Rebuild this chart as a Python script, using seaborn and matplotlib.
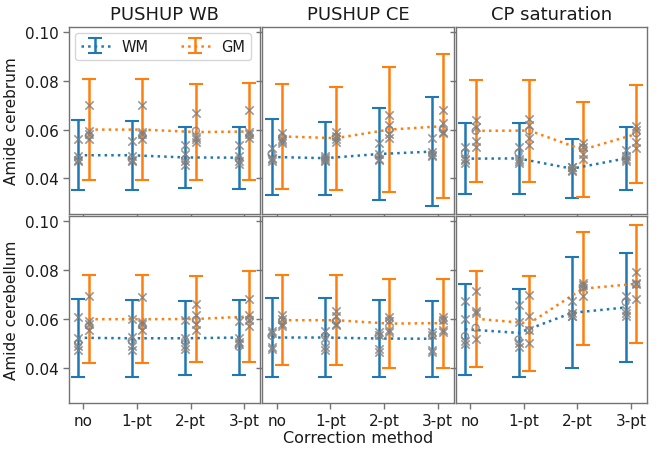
import numpy as np
import pandas as pd
import matplotlib
matplotlib.use('Agg')
import matplotlib.pyplot as plt
import seaborn as sns

methods = ['no', '1-pt', '2-pt', '3-pt']
tools = ['PUSHUP WB', 'PUSHUP CE', 'CP saturation']
regions = ['Amide cerebrum', 'Amide cerebellum']

# mean / sd of amide per correction method (no, 1-pt, 2-pt, 3-pt)
# subject values: first subject is drawn as 'o', the rest as 'x'

# --- PUSHUP WB, cerebrum
wb_cbr_wm_mean = [0.0495, 0.0495, 0.0486, 0.0485]
wb_cbr_wm_sd = [0.0143, 0.0142, 0.0126, 0.0127]
wb_cbr_gm_mean = [0.0600, 0.0600, 0.0590, 0.0592]
wb_cbr_gm_sd = [0.0208, 0.0207, 0.0196, 0.0200]
wb_cbr_wm_pts = [[0.048, 0.056, 0.049, 0.047, 0.0475],
                 [0.048, 0.0555, 0.049, 0.047, 0.0475],
                 [0.048, 0.0535, 0.050, 0.047, 0.0455],
                 [0.048, 0.0535, 0.049, 0.047, 0.046]]
wb_cbr_gm_pts = [[0.0575, 0.070, 0.0595, 0.056, 0.058],
                 [0.0575, 0.070, 0.059, 0.056, 0.058],
                 [0.0595, 0.067, 0.057, 0.055, 0.056],
                 [0.0575, 0.068, 0.059, 0.0565, 0.058]]

# --- PUSHUP CE, cerebrum
ce_cbr_wm_mean = [0.0488, 0.0483, 0.0500, 0.0510]
ce_cbr_wm_sd = [0.0155, 0.0150, 0.0188, 0.0223]
ce_cbr_gm_mean = [0.0572, 0.0565, 0.0600, 0.0614]
ce_cbr_gm_sd = [0.0214, 0.0211, 0.0257, 0.0294]
ce_cbr_wm_pts = [[0.050, 0.0525, 0.048, 0.047, 0.0485],
                 [0.048, 0.049, 0.047, 0.0475, 0.0485],
                 [0.049, 0.0545, 0.050, 0.048, 0.0475],
                 [0.050, 0.0565, 0.051, 0.049, 0.0495]]
ce_cbr_gm_pts = [[0.057, 0.0585, 0.056, 0.0555, 0.0545],
                 [0.057, 0.059, 0.056, 0.055, 0.0575],
                 [0.060, 0.066, 0.062, 0.058, 0.0565],
                 [0.060, 0.068, 0.0625, 0.059, 0.0585]]

# --- CP saturation, cerebrum
cp_cbr_wm_mean = [0.0481, 0.0482, 0.0440, 0.0482]
cp_cbr_wm_sd = [0.0146, 0.0145, 0.0120, 0.0129]
cp_cbr_gm_mean = [0.0595, 0.0596, 0.0518, 0.0582]
cp_cbr_gm_sd = [0.0210, 0.0209, 0.0193, 0.0201]
cp_cbr_wm_pts = [[0.0505, 0.053, 0.048, 0.0475, 0.0465],
                 [0.0505, 0.053, 0.048, 0.047, 0.0465],
                 [0.044, 0.0445, 0.0435, 0.043, 0.0445],
                 [0.048, 0.0515, 0.049, 0.047, 0.048]]
cp_cbr_gm_pts = [[0.0595, 0.064, 0.061, 0.0555, 0.053],
                 [0.0595, 0.0645, 0.062, 0.0565, 0.0535],
                 [0.0525, 0.0545, 0.053, 0.050, 0.048],
                 [0.0585, 0.0615, 0.060, 0.055, 0.0525]]

# --- PUSHUP WB, cerebellum
wb_cbl_wm_mean = [0.0522, 0.0520, 0.0520, 0.0523]
wb_cbl_wm_sd = [0.0160, 0.0158, 0.0151, 0.0154]
wb_cbl_gm_mean = [0.0598, 0.0598, 0.0599, 0.0609]
wb_cbl_gm_sd = [0.0180, 0.0180, 0.0175, 0.0185]
wb_cbl_wm_pts = [[0.050, 0.0605, 0.052, 0.049, 0.047],
                 [0.051, 0.060, 0.0525, 0.049, 0.047],
                 [0.051, 0.0595, 0.052, 0.049, 0.0475],
                 [0.0485, 0.059, 0.052, 0.0505, 0.0495]]
wb_cbl_gm_pts = [[0.057, 0.0695, 0.058, 0.0555, 0.059],
                 [0.057, 0.069, 0.058, 0.0555, 0.0585],
                 [0.0595, 0.066, 0.0615, 0.0555, 0.058],
                 [0.060, 0.068, 0.0615, 0.057, 0.0595]]

# --- PUSHUP CE, cerebellum
ce_cbl_wm_mean = [0.0523, 0.0523, 0.0519, 0.0518]
ce_cbl_wm_sd = [0.0160, 0.0160, 0.0156, 0.0156]
ce_cbl_gm_mean = [0.0594, 0.0594, 0.0580, 0.0582]
ce_cbl_gm_sd = [0.0183, 0.0183, 0.0183, 0.0182]
ce_cbl_wm_pts = [[0.053, 0.055, 0.054, 0.0485, 0.0475],
                 [0.053, 0.055, 0.052, 0.0485, 0.047],
                 [0.053, 0.0545, 0.0535, 0.0475, 0.0465],
                 [0.053, 0.0545, 0.0535, 0.047, 0.0465]]
ce_cbl_gm_pts = [[0.059, 0.0615, 0.060, 0.058, 0.057],
                 [0.059, 0.063, 0.061, 0.0575, 0.058],
                 [0.0595, 0.0605, 0.059, 0.0555, 0.0545],
                 [0.0595, 0.0605, 0.0595, 0.0555, 0.0545]]

# --- CP saturation, cerebellum
cp_cbl_wm_mean = [0.0557, 0.0542, 0.0624, 0.0646]
cp_cbl_wm_sd = [0.0186, 0.0180, 0.0227, 0.0223]
cp_cbl_gm_mean = [0.0600, 0.0581, 0.0723, 0.0743]
cp_cbl_gm_sd = [0.0197, 0.0195, 0.0231, 0.0241]
cp_cbl_wm_pts = [[0.0529, 0.0671, 0.0597, 0.0508, 0.0495],
                 [0.0515, 0.0658, 0.0586, 0.0499, 0.0484],
                 [0.062, 0.0671, 0.0613, 0.061, 0.0625],
                 [0.0668, 0.0692, 0.0637, 0.061, 0.0623]]
cp_cbl_gm_pts = [[0.0563, 0.0715, 0.0631, 0.0624, 0.0515],
                 [0.0553, 0.0698, 0.0613, 0.0553, 0.0499],
                 [0.0732, 0.0746, 0.0739, 0.0692, 0.0725],
                 [0.074, 0.0791, 0.0742, 0.0681, 0.0745]]

panels = [
    [(wb_cbr_wm_mean, wb_cbr_wm_sd, wb_cbr_wm_pts, wb_cbr_gm_mean, wb_cbr_gm_sd, wb_cbr_gm_pts),
     (ce_cbr_wm_mean, ce_cbr_wm_sd, ce_cbr_wm_pts, ce_cbr_gm_mean, ce_cbr_gm_sd, ce_cbr_gm_pts),
     (cp_cbr_wm_mean, cp_cbr_wm_sd, cp_cbr_wm_pts, cp_cbr_gm_mean, cp_cbr_gm_sd, cp_cbr_gm_pts)],
    [(wb_cbl_wm_mean, wb_cbl_wm_sd, wb_cbl_wm_pts, wb_cbl_gm_mean, wb_cbl_gm_sd, wb_cbl_gm_pts),
     (ce_cbl_wm_mean, ce_cbl_wm_sd, ce_cbl_wm_pts, ce_cbl_gm_mean, ce_cbl_gm_sd, ce_cbl_gm_pts),
     (cp_cbl_wm_mean, cp_cbl_wm_sd, cp_cbl_wm_pts, cp_cbl_gm_mean, cp_cbl_gm_sd, cp_cbl_gm_pts)],
]

sns.set_style('ticks', {'axes.edgecolor': '.45', 'xtick.color': '.45', 'ytick.color': '.45',
                        'text.color': '.1', 'axes.labelcolor': '.1'})
plt.rcParams['font.family'] = ['DejaVu Sans']
pal = sns.color_palette('tab10')
c_wm, c_gm = pal[0], pal[1]

fig, axes = plt.subplots(2, 3, figsize=(6.58, 4.56), dpi=100, sharex=True, sharey=True)
fig.subplots_adjust(left=69/658, right=647/658, top=1-28/456, bottom=1-404/456,
                    wspace=0.012, hspace=0.012)

x = np.arange(len(methods))
off = 0.1


def subj_frame(pos, pts):
    rows = []
    for p, vals in zip(pos, pts):
        for k, v in enumerate(vals):
            rows.append({'x': p, 'y': v, 'kind': 'o' if k == 0 else 'x'})
    return pd.DataFrame(rows)


for r in range(2):
    for c in range(3):
        ax = axes[r, c]
        wm_m, wm_s, wm_p, gm_m, gm_s, gm_p = panels[r][c]
        h_wm = ax.errorbar(x - off, wm_m, yerr=wm_s, fmt=':', color=c_wm, lw=1.8,
                           elinewidth=1.8, capsize=5, capthick=1.5, label='WM', zorder=2)
        h_gm = ax.errorbar(x + off, gm_m, yerr=gm_s, fmt=':', color=c_gm, lw=1.8,
                           elinewidth=1.8, capsize=5, capthick=1.5, label='GM', zorder=2)
        for pos, pts in [(x - off, wm_p), (x + off, gm_p)]:
            df = subj_frame(pos, pts)
            sns.scatterplot(data=df[df.kind == 'x'], x='x', y='y', marker='x', color='gray',
                            s=36, linewidth=1.2, alpha=0.8, ax=ax, zorder=3, legend=False)
            sns.scatterplot(data=df[df.kind == 'o'], x='x', y='y', marker='o', facecolor='none',
                            edgecolor='gray', s=24, linewidth=1.1, alpha=0.8, ax=ax, zorder=3,
                            legend=False)
        ax.set_xlabel('')
        ax.set_ylabel('')
        ax.tick_params(labelsize=11, length=4, width=1, labelcolor='.1')
        for sp in ax.spines.values():
            sp.set_visible(True)
            sp.set_linewidth(1.0)
        if r == 0:
            ax.set_title(tools[c], fontsize=13, pad=6)
        if c == 0:
            ax.set_ylabel(regions[r], fontsize=11)
        if r == 0 and c == 0:
            ax.legend(handles=[h_wm, h_gm], loc='upper left', ncol=2, fontsize=10.5,
                      columnspacing=2.2, borderaxespad=0.4)

axes[0, 0].set_xlim(-0.27, 3.3)
axes[0, 0].set_ylim(0.0255, 0.102)
axes[0, 0].set_yticks([0.04, 0.06, 0.08, 0.10])
axes[0, 0].set_xticks(x)
axes[0, 0].set_xticklabels(methods)
fig.text((69 + 647) / 2 / 658, 0.022, 'Correction method', ha='center', va='bottom', fontsize=11.5,
         color='.1')

fig.savefig('out.png', dpi=100)
